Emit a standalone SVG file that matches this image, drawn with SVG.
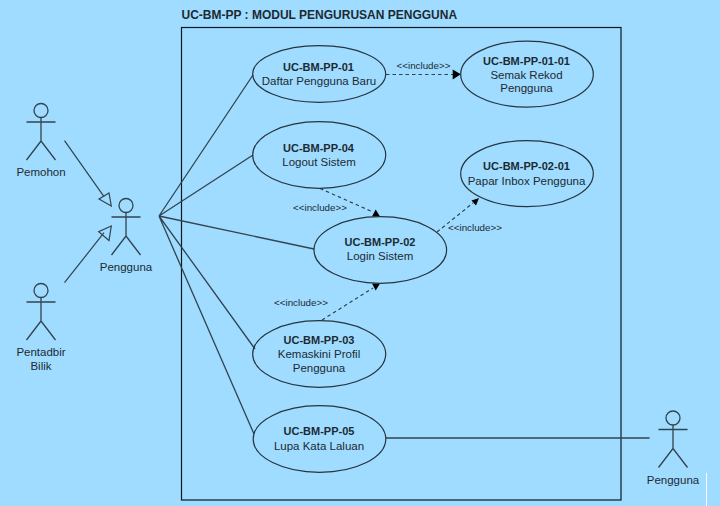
<svg xmlns="http://www.w3.org/2000/svg" width="720" height="506" viewBox="0 0 720 506">
<style>
text{font-family:"Liberation Sans",Arial,sans-serif;font-size:11.5px;fill:#1d2a33;text-anchor:middle}
.b{font-weight:bold;font-size:11px}
.t{font-size:12px;font-weight:bold;text-anchor:start}
.inc{font-size:9.8px}
.uc{fill:none;stroke:#26343f;stroke-width:1.2}
.a{fill:none;stroke:#33434f;stroke-width:1.3}
.l{fill:none;stroke:#33434f;stroke-width:1.3}
.d{fill:none;stroke:#33434f;stroke-width:1.2;stroke-dasharray:3.5 3}
.h{fill:#000;stroke:none}
.g{fill:none;stroke:#33434f;stroke-width:1.2}
</style>
<defs>
<g id="actor"><circle cx="0" cy="-11.500" r="7" class="a"/><path d="M0-4.500V19M-14.500 0H14.500M0 19L-14.500 38M0 19L14.500 38" class="a"/></g>
</defs>
<rect width="720" height="506" fill="#9fdcff"/>
<path d="M706.500 473V506" stroke="#fff" stroke-width="1"/>
<g id="system"><rect x="181.500" y="27.500" width="439.500" height="472.500" fill="none" stroke="#0c1820" stroke-width="1.2"/><text class="t" x="181.500" y="19">UC-BM-PP : MODUL PENGURUSAN PENGGUNA</text></g>
<g id="connectors">
<path class="l" d="M159 216L253 75M159 216L253 155M159 216L314 249M159 216L255 349M159 216L254 434M386 438H649.500"/>
<path class="g" d="M64.500 140.700L104 196.700M64.500 282.700L104 232.700"/>
<path class="g" d="M111.300 206L99 199L109 193Z M111.300 226L98.700 231.700L109 240.500Z"/>
<path class="d" d="M320 188.500L373 212M322 320L373 288M437 232L473 203M386 74.500H453"/>
<path class="h" d="M460.800 74.300L452.700 69.500V79.500Z M375.700 209.500L372 216.500H380Z M375.700 290.500L372 283.500H380Z M479 198L471.500 200.500L476 205.500Z"/>
<text class="inc" x="423.500" y="69">&lt;&lt;include&gt;&gt;</text>
<text class="inc" x="320" y="211">&lt;&lt;include&gt;&gt;</text>
<text class="inc" x="475" y="231">&lt;&lt;include&gt;&gt;</text>
<text class="inc" x="301" y="306">&lt;&lt;include&gt;&gt;</text>
</g>
<g id="UC-BM-PP-01"><ellipse class="uc" cx="319.200" cy="74" rx="66.500" ry="28.300"/><text class="b" x="318.500" y="71">UC-BM-PP-01</text><text x="319" y="85">Daftar Pengguna Baru</text></g>
<g id="UC-BM-PP-01-01"><ellipse class="uc" cx="527" cy="74.200" rx="66.300" ry="33"/><text class="b" x="526.500" y="65">UC-BM-PP-01-01</text><text x="526.500" y="79">Semak Rekod</text><text x="526.500" y="92">Pengguna</text></g>
<g id="UC-BM-PP-04"><ellipse class="uc" cx="319.200" cy="155" rx="66.500" ry="33.300"/><text class="b" x="318.500" y="151.500">UC-BM-PP-04</text><text x="319" y="166">Logout Sistem</text></g>
<g id="UC-BM-PP-02-01"><ellipse class="uc" cx="527" cy="173.700" rx="66.300" ry="33"/><text class="b" x="526.500" y="170">UC-BM-PP-02-01</text><text x="526.500" y="185">Papar Inbox Pengguna</text></g>
<g id="UC-BM-PP-02"><ellipse class="uc" cx="380.300" cy="250" rx="66.300" ry="33.300"/><text class="b" x="380" y="246">UC-BM-PP-02</text><text x="380" y="260">Login Sistem</text></g>
<g id="UC-BM-PP-03"><ellipse class="uc" cx="319.200" cy="354" rx="66.500" ry="33.300"/><text class="b" x="319" y="344">UC-BM-PP-03</text><text x="319" y="358">Kemaskini Profil</text><text x="319" y="372">Pengguna</text></g>
<g id="UC-BM-PP-05"><ellipse class="uc" cx="319.500" cy="439" rx="66.300" ry="33.300"/><text class="b" x="319" y="435">UC-BM-PP-05</text><text x="319" y="450">Lupa Kata Laluan</text></g>
<g id="actor-pemohon"><use href="#actor" x="41" y="122"/><text x="41" y="176">Pemohon</text></g>
<g id="actor-pengguna"><use href="#actor" x="126" y="217"/><text x="126" y="271">Pengguna</text></g>
<g id="actor-pentadbir"><use href="#actor" x="41" y="302"/><text x="41" y="356">Pentadbir</text><text x="41" y="370">Bilik</text></g>
<g id="actor-pengguna-2"><use href="#actor" x="673" y="429.500"/><text x="673" y="484">Pengguna</text></g>
</svg>
